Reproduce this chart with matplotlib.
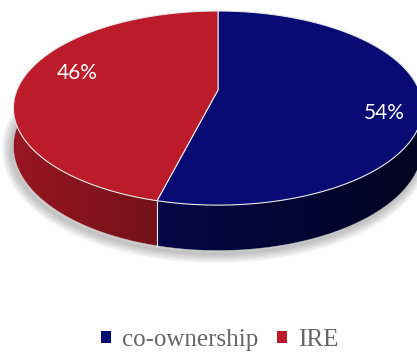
import numpy as np
import matplotlib.pyplot as plt
from matplotlib.patches import Polygon, Patch

labels = ['co-ownership', 'IRE']
shares = [54, 46]
top_colors = [(7, 11, 115), (188, 27, 41)]

# projection of the tilted disc (pixel space, y grows downwards)
cx, cy = 218, 90
R, B = 201, 93.7
p = 0.186          # perspective strength
D = 37             # thickness of the disc


def project(theta, r=1.0):
    u = r * np.sin(theta)
    v = r * np.cos(theta)
    k = 1 + p * v
    return cx + R * u / k, cy - B * v / k


def depth(theta):
    return D / (1 + p * np.cos(theta))


def rgb(c, f=1.0):
    return tuple(min(1, max(0, ch * f / 255)) for ch in c)


fig = plt.figure(figsize=(4.17, 3.54), dpi=100)
ax = fig.add_axes([0, 0, 1, 1])
ax.set_xlim(0, 417)
ax.set_ylim(354, 0)
ax.axis('off')

fracs = np.array(shares) / sum(shares)
edges = np.concatenate([[0], np.cumsum(fracs)]) * 2 * np.pi

# soft shadow below the whole disc
t_all = np.linspace(0, 2 * np.pi, 400)
sx, sy = project(t_all)
sy = sy + depth(t_all)
for lw in range(14, 0, -2):
    ax.plot(sx - 2, sy + 3, color='black', lw=lw, alpha=0.035, zorder=0,
            solid_capstyle='round')

# side wall: horizontal gradient clipped to each slice's rim band
xs_grid = np.linspace(0, 417, 420)
for (a0, a1), col in zip(zip(edges[:-1], edges[1:]), top_colors):
    t = np.linspace(a0, a1, 300)
    t = t[np.cos(t) < 0.35]
    xt, yt = project(t)
    yb = yt + depth(t)
    band = list(zip(xt, yt)) + list(zip(xt[::-1], yb[::-1]))
    clip = Polygon(band, closed=True, fc='none', ec='none', transform=ax.transData)
    ax.add_patch(clip)
    u = np.clip((xs_grid - cx) / R, -1, 1)
    f = 0.54 - 0.26 * u
    grad = np.array([rgb(col, fi) for fi in f])[None, :, :]
    im = ax.imshow(grad, extent=(0, 417, 260, 90), aspect='auto',
                   interpolation='bilinear', zorder=1)
    im.set_clip_path(clip)

ax.set_xlim(0, 417)
ax.set_ylim(354, 0)

# seam on the side wall where the slices meet
for a in edges[1:-1]:
    x0, y0 = project(a)
    ax.plot([x0, x0], [y0, y0 + depth(a)], color='#e8e8e8', lw=0.8, zorder=2)

# outline of the lower rim
ax.plot(sx, sy, color='#d0d0d0', lw=0.5, alpha=0.6, zorder=2)

# top face
for (a0, a1), col in zip(zip(edges[:-1], edges[1:]), top_colors):
    t = np.linspace(a0, a1, 200)
    xs, ys = project(t)
    pts = [(cx, cy)] + list(zip(xs, ys))
    ax.add_patch(Polygon(pts, closed=True, fc=rgb(col), ec='#e6e6e6', lw=0.8, zorder=3))

# percentage labels
label_r = [0.80, 0.72]
label_dy = [13, -9]
for a0, a1, val, r, dy in zip(edges[:-1], edges[1:], shares, label_r, label_dy):
    lx, ly = project((a0 + a1) / 2, r)
    ax.text(lx + (4 if val == shares[0] else 0), ly + dy, f'{val}%', color='white',
            fontsize=15, family='Lato', ha='center', va='center', zorder=5)

handles = [Patch(fc=rgb(c), ec='none') for c in top_colors]
fig.legend(handles, labels, loc='center', bbox_to_anchor=(0.527, 0.04), ncol=2,
           frameon=False, handlelength=0.4, handleheight=0.4, handletextpad=0.45,
           columnspacing=0.75, prop={'family': 'Liberation Serif', 'size': 18},
           labelcolor='#666666')

fig.savefig('out.png', dpi=100)
